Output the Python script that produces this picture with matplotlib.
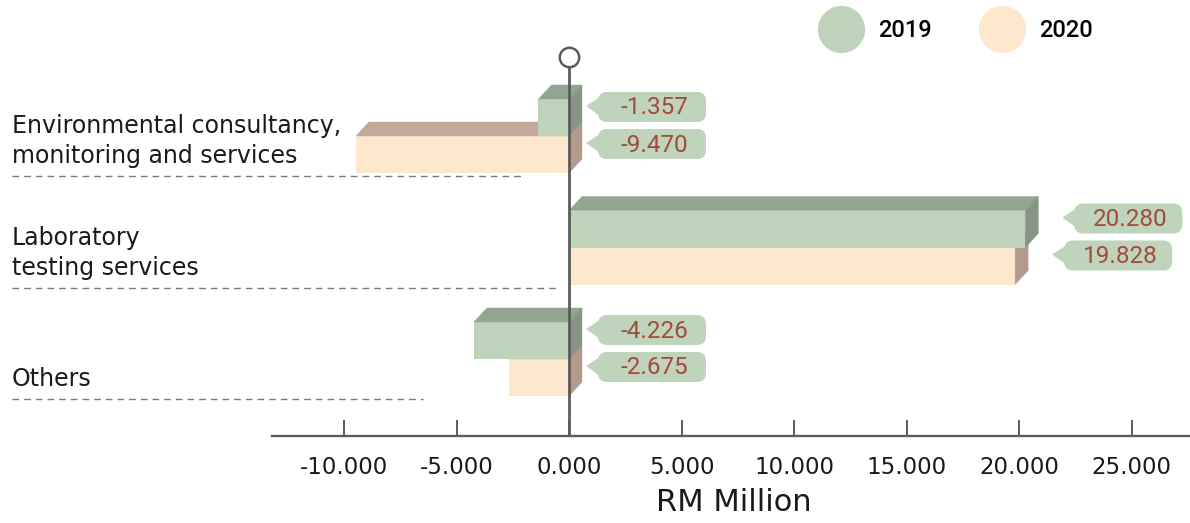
import numpy as np
import matplotlib.pyplot as plt
import matplotlib.transforms as mtransforms
from matplotlib.patches import FancyBboxPatch, Polygon
from matplotlib.lines import Line2D

categories = ["Environmental consultancy,\nmonitoring and services",
              "Laboratory\ntesting services",
              "Others"]
years = ["2019", "2020"]
values = {"2019": [-1.357, 20.280, -4.226],
          "2020": [-9.470, 19.828, -2.675]}
xticks = [-10, -5, 0, 5, 10, 15, 20, 25]

front = {"2019": "#bfd3bb", "2020": "#fee8cd"}
top = {"2019": "#92a591", "2020": "#c4a89a"}
side = {"2019": "#879684", "2020": "#b39a8c"}
box_color = "#c0d3bb"
value_color = "#a04b3c"
axis_color = "#5c5c5c"

# layout, in output pixels
W, H = 1190, 523
zero_px, sx = 569, 22.5      # x position of 0 and pixels per RM million
row0, sy = 136, 111.5        # row of first category and pixels per category
axis_row = 436
bar_h = 37 / sy
dx, dy = 13 / sx, 14 / sy    # depth of the 3d faces
rule_end_px = [525, 560, 423]

fig = plt.figure(figsize=(W / 100, H / 100), dpi=100)
ax = fig.add_axes([0, (H - axis_row) / H, 1, axis_row / H])
ax.set_xlim(-zero_px / sx, (W - zero_px) / sx)
ax.set_ylim((axis_row - row0) / sy, -row0 / sy)

for s in ["top", "left", "right"]:
    ax.spines[s].set_visible(False)
ax.spines["bottom"].set_bounds(-(zero_px - 272) / sx, (W - zero_px) / sx)
ax.spines["bottom"].set_linewidth(1.7)
ax.spines["bottom"].set_color(axis_color)
ax.set_yticks([])
ax.set_xticks(xticks)
ax.set_xticklabels([f"{t:.3f}" for t in xticks])
ax.tick_params(axis="x", direction="in", length=11.5, width=1.4,
               color=axis_color, pad=14.5, labelsize=16.5, labelcolor="#1a1a1a")
ax.set_xlabel("RM Million", fontsize=22, color="#1a1a1a")
ax.xaxis.set_label_coords(734 / W, -(488 - axis_row) / axis_row)

pos = np.arange(len(categories))

# bars: 2020 first so the 2019 bar sits over its top face
for yr, z in [("2020", 2), ("2019", 3)]:
    vals = values[yr]
    y_edge = pos - bar_h if yr == "2019" else pos.astype(float)
    ax.barh(y_edge, vals, height=bar_h, left=0, align="edge",
            color=front[yr], zorder=z)
    for yt, v in zip(y_edge, vals):
        x0, x1 = min(0, v), max(0, v)
        yb = yt + bar_h
        ax.fill([x0, x1, x1 + dx, x0 + dx], [yt, yt, yt - dy, yt - dy],
                color=top[yr], lw=0.3, zorder=z)
        ax.fill([x1, x1 + dx, x1 + dx, x1], [yt, yt - dy, yb - dy, yb],
                color=side[yr], lw=0.3, zorder=z)

        # value callout
        gap = 37 if v > 0 else 17
        trans = mtransforms.Affine2D() + mtransforms.ScaledTranslation(
            x1 + gap / sx, yt + 8 / sy, ax.transData)
        ax.add_patch(FancyBboxPatch((12, -15), 108, 30,
                                    boxstyle="round,pad=0,rounding_size=9",
                                    fc=box_color, ec="none",
                                    transform=trans, zorder=8))
        ax.add_patch(Polygon([(0, 1), (14, 10), (14, -9)], closed=True,
                             fc=box_color, ec="none", transform=trans, zorder=8))
        ax.text(68, -1, f"{v:.3f}", transform=trans, ha="center", va="center",
                fontsize=17.5, family="Roboto", color=value_color, zorder=9)

# zero line with the open circle on top
circle_y = (57 - row0) / sy
ax.plot([0, 0], [circle_y, (axis_row - row0) / sy], color=axis_color,
        lw=2, solid_capstyle="butt", zorder=6)
ax.plot([0], [circle_y], "o", ms=14, mfc="white", mec=axis_color,
        mew=1.8, zorder=7)

# category labels sitting on dashed rules
for i, cat in enumerate(categories):
    rule_y = i + 40 / sy
    ax.plot([-(zero_px - 12) / sx, (rule_end_px[i] - zero_px) / sx],
            [rule_y, rule_y], color="#7a7a7a", lw=1, ls=(0, (4.8, 3.6)),
            zorder=1)
    ax.text(-(zero_px - 12) / sx, rule_y - 8 / sy, cat, ha="left",
            va="bottom", fontsize=17, linespacing=1.3, color="#1a1a1a")

handles = [Line2D([], [], ls="none", marker="o", ms=34, mfc=front[yr],
                  mec="none") for yr in years]
ax.legend(handles, years, loc="center", ncol=2, frameon=False,
          bbox_to_anchor=(955 / W, 1 - 30.5 / H), bbox_transform=fig.transFigure,
          handlelength=2.0, handletextpad=0.55, columnspacing=2.0,
          prop={"family": "Roboto", "weight": 500, "size": 17})

fig.savefig("out.png", dpi=100)
